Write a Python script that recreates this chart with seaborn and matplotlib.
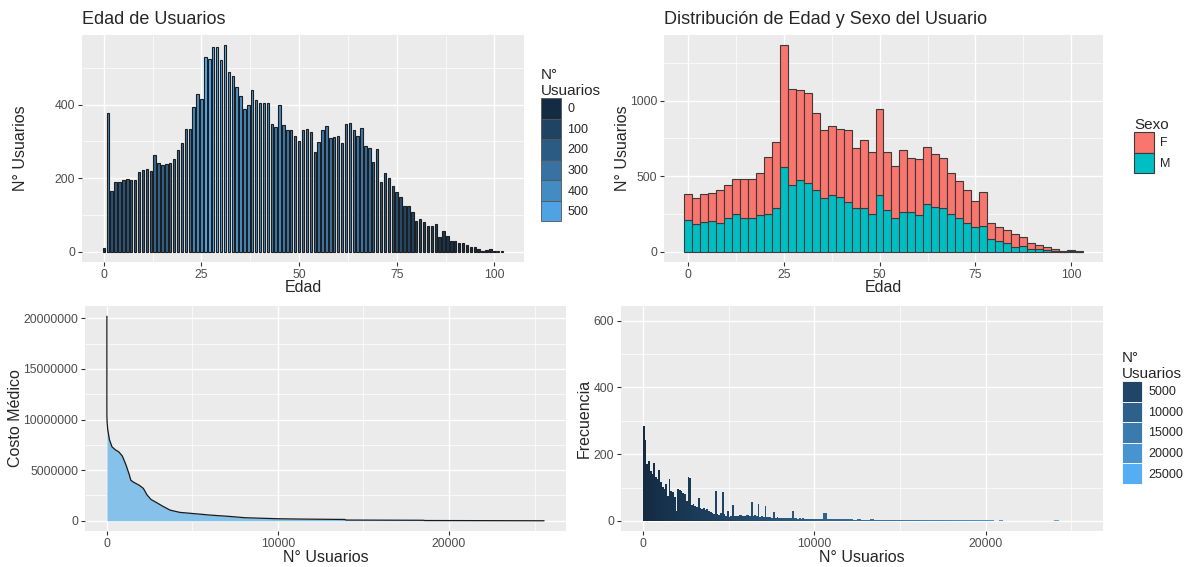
import numpy as np
import pandas as pd
import matplotlib
matplotlib.use("Agg")
import matplotlib.pyplot as plt
import seaborn as sns
from matplotlib.colors import LinearSegmentedColormap, Normalize
from matplotlib.patches import Patch
from matplotlib.ticker import FixedLocator

# ---------------- data ----------------
# Panel 1: users per age (0..102)
edad = list(range(0, 103))
usuarios_edad = [9, 377, 166, 190, 190, 194, 198, 196, 196, 217,
                 222, 226, 219, 264, 242, 236, 238, 240, 251, 276,
                 295, 333, 333, 394, 429, 415, 528, 525, 556, 557,
                 520, 561, 489, 478, 448, 423, 387, 398, 439, 412,
                 403, 403, 403, 348, 340, 399, 344, 330, 330, 314,
                 302, 330, 334, 325, 272, 299, 330, 341, 308, 311,
                 315, 296, 348, 350, 332, 315, 337, 286, 282, 243,
                 279, 190, 215, 200, 178, 162, 149, 124, 124, 108,
                 83, 89, 80, 71, 71, 74, 39, 55, 42, 30,
                 29, 23, 24, 18, 13, 12, 7, 3, 5, 8,
                 1, 1, 2]

# Panel 2: age histogram (50 bins) split by sex
total_bin = [384, 355, 384, 391, 408, 444, 482, 478, 478, 522,
             625, 725, 1366, 1078, 1071, 1047, 920, 806, 833, 810,
             804, 685, 741, 658, 944, 658, 567, 674, 623, 612,
             694, 647, 623, 522, 469, 408, 337, 393, 192, 163,
             141, 114, 100, 60, 47, 28, 16, 6, 9, 3]
masc_bin = [208, 181, 194, 201, 192, 223, 248, 223, 221, 243,
            250, 286, 562, 440, 475, 453, 406, 357, 377, 364,
            328, 290, 286, 252, 377, 279, 223, 261, 261, 243,
            319, 299, 286, 252, 223, 192, 165, 167, 87, 69,
            60, 33, 38, 20, 16, 9, 4, 1, 2, 1]
fem_bin = [t - m for t, m in zip(total_bin, masc_bin)]
sexos = ["F", "M"]

# Panel 3: medical cost sorted by user rank
usuarios_rank = [0, 0, 10, 50, 150, 300, 500, 700, 900, 1000, 1120, 1300, 1400,
                 1570, 1900, 2130, 2350, 2580, 2900, 3250, 3700, 4260, 4930,
                 6050, 7170, 8070, 10000, 11200, 13900, 14000, 18500, 18600, 25560]
costo_medico = [20200000, 10500000, 9800000, 9000000, 8000000, 7300000, 7000000,
                6800000, 6400000, 6000000, 5500000, 4600000, 4000000, 3800000,
                3500000, 3200000, 2550000, 2100000, 1800000, 1450000, 1050000,
                830000, 730000, 560000, 430000, 300000, 200000, 170000, 130000,
                70000, 50000, 25000, 0]

# Panel 4: frequency histogram over N° usuarios
frec_cabeza = [285, 242, 170, 180, 150, 141, 174, 133, 126, 154,
               116, 101, 96, 110, 76, 126, 91, 86, 73, 30,
               96, 92, 89, 85, 81, 60, 133, 128, 47, 50,
               45, 42, 68, 38, 35, 40, 32, 35, 30, 28,
               25, 22, 89, 20, 18, 25, 88, 22, 15, 30,
               12, 14, 47, 15, 16, 14, 17, 18, 16, 15,
               17, 18, 16, 56, 15, 18, 14, 50, 13, 15,
               12, 45, 12, 11, 12, 10, 28, 10, 11, 9,
               10, 9, 10, 9, 8, 9, 8, 30, 8, 9,
               7, 8, 7, 8, 7, 6, 7, 6, 7, 6]
frec_cola = [6, 5, 25, 6, 5, 6, 5, 5, 5, 4,
             5, 4, 4, 5, 4, 4, 4, 3, 4, 3,
             3, 3, 3, 3, 3, 2, 3, 2, 2, 3,
             2, 2, 2, 2, 2, 2, 2, 2, 2, 2,
             2, 2, 1, 2, 1, 1, 1, 0, 0, 0,
             0, 0, 0, 0, 0, 0, 2, 0]

leyenda_tl = [0, 100, 200, 300, 400, 500]
leyenda_br = [5000, 10000, 15000, 20000, 25000]

# ---------------- style ----------------
sns.set_theme(style="darkgrid", rc={
    "axes.facecolor": "#EBEBEB",
    "axes.edgecolor": "#EBEBEB",
    "grid.color": "white",
    "grid.linewidth": 1.0,
    "xtick.bottom": True, "ytick.left": True,
    "xtick.color": "#333333", "ytick.color": "#333333",
    "xtick.labelcolor": "#4D4D4D", "ytick.labelcolor": "#4D4D4D",
    "xtick.major.size": 3, "ytick.major.size": 3,
    "xtick.major.width": 0.8, "ytick.major.width": 0.8,
    "xtick.major.pad": 2, "ytick.major.pad": 2,
    "xtick.labelsize": 8.8, "ytick.labelsize": 8.8,
})
plt.rcParams["font.family"] = ["Liberation Sans", "DejaVu Sans"]

gg_cmap = LinearSegmentedColormap.from_list("gg", ["#132B43", "#56B1F7"])

W, H = 1186, 567
fig = plt.figure(figsize=(W / 100, H / 100), dpi=100)


def add_ax(l, t, r, b):
    return fig.add_axes([l / W, 1 - b / H, (r - l) / W, (b - t) / H])


ax1 = add_ax(82, 35, 524, 262)
ax2 = add_ax(664, 35, 1103, 262)
ax3 = add_ax(85, 306, 566, 531)
ax4 = add_ax(621, 306, 1103, 531)


def style(ax, xmaj, xmin, ymaj, ymin, xlim, ylim):
    ax.set_xlim(*xlim)
    ax.set_ylim(*ylim)
    ax.xaxis.set_major_locator(FixedLocator(xmaj))
    ax.xaxis.set_minor_locator(FixedLocator(xmin))
    ax.yaxis.set_major_locator(FixedLocator(ymaj))
    ax.yaxis.set_minor_locator(FixedLocator(ymin))
    ax.grid(which="major", color="white", linewidth=1.0)
    ax.grid(which="minor", color="white", linewidth=0.5)
    ax.tick_params(which="minor", length=0)
    ax.set_axisbelow(True)
    for s in ax.spines.values():
        s.set_visible(False)


# ---------------- panel 1 ----------------
norm1 = Normalize(vmin=min(usuarios_edad), vmax=max(usuarios_edad))
df1 = pd.DataFrame({"Edad": edad, "n": usuarios_edad})
sns.barplot(data=df1, x="Edad", y="n", native_scale=True, width=0.62,
            color="#336A98", errorbar=None, edgecolor="#1E1E1E",
            linewidth=0.8, ax=ax1)
for p, v in zip(sorted(ax1.patches, key=lambda p: p.get_x()), usuarios_edad):
    p.set_facecolor(gg_cmap(norm1(v)))
style(ax1, [0, 25, 50, 75, 100], [12.5, 37.5, 62.5, 87.5],
      [0, 200, 400], [100, 300, 500], (-5.6, 107.6), (-28, 589))
ax1.set_title("Edad de Usuarios", loc="left", fontsize=13, pad=8)
ax1.set_xlabel("Edad", fontsize=11.5)
ax1.set_ylabel("N° Usuarios", fontsize=11.5)
ax1.xaxis.set_label_coords(0.5, -0.079)
ax1.yaxis.set_label_coords(-0.122, 0.5)

# ---------------- panel 2 ----------------
n_bins = len(total_bin)
ancho = (max(edad) - min(edad)) / (n_bins - 1)
centros = [min(edad) + i * ancho for i in range(n_bins)]
bordes = [c - ancho / 2 for c in centros] + [centros[-1] + ancho / 2]
df2 = pd.DataFrame({
    "c": centros * 2,
    "Sexo": ["F"] * n_bins + ["M"] * n_bins,
    "n": fem_bin + masc_bin,
})
sns.histplot(data=df2, x="c", weights="n", hue="Sexo", hue_order=sexos,
             multiple="stack", bins=bordes,
             palette={"F": "#F8766D", "M": "#00BFC4"}, alpha=1,
             edgecolor="#3A3A3A", linewidth=0.8, legend=False, ax=ax2)
style(ax2, [0, 25, 50, 75, 100], [12.5, 37.5, 62.5, 87.5],
      [0, 500, 1000], [250, 750, 1250], (-6.3, 108.3), (-68, 1434))
ax2.set_title("Distribución de Edad y Sexo del Usuario", loc="left",
              fontsize=13, pad=8)
ax2.set_xlabel("Edad", fontsize=11.5)
ax2.set_ylabel("N° Usuarios", fontsize=11.5)
ax2.xaxis.set_label_coords(0.5, -0.079)
ax2.yaxis.set_label_coords(-0.077, 0.5)

# ---------------- panel 3 ----------------
ax3.fill_between(usuarios_rank, costo_medico, color="#85C1E9", linewidth=0)
sns.lineplot(x=usuarios_rank, y=costo_medico, sort=False, estimator=None,
             color="#1A1A1A", linewidth=0.9, ax=ax3)
style(ax3, [0, 10000, 20000], [5000, 15000, 25000],
      [0, 5000000, 10000000, 15000000, 20000000],
      [2500000, 7500000, 12500000, 17500000], (-1280, 26840),
      (-1010000, 21210000))
ax3.ticklabel_format(style="plain", axis="y", useOffset=False)
ax3.set_xlabel("N° Usuarios", fontsize=11.5)
ax3.set_ylabel("Costo Médico", fontsize=11.5)
ax3.xaxis.set_label_coords(0.5, -0.084)
ax3.yaxis.set_label_coords(-0.128, 0.5)

# ---------------- panel 4 ----------------
ancho_cabeza, ancho_cola = 100, 250
inicio_cola = ancho_cabeza * len(frec_cabeza)
bordes4 = [i * ancho_cabeza for i in range(len(frec_cabeza))] + \
          [inicio_cola + i * ancho_cola for i in range(len(frec_cola) + 1)]
centros4 = [(a + b) / 2 for a, b in zip(bordes4[:-1], bordes4[1:])]
frec = frec_cabeza + frec_cola
sns.histplot(x=centros4, weights=frec, bins=bordes4, color="#1F3E5E",
             alpha=1, edgecolor="none", linewidth=0, ax=ax4)
norm4 = Normalize(vmin=0, vmax=25560)
for p in ax4.patches:
    cx = p.get_x() + p.get_width() / 2
    p.set_facecolor(gg_cmap(norm4(cx)))
style(ax4, [0, 10000, 20000], [5000, 15000, 25000],
      [0, 200, 400, 600], [100, 300, 500], (-1280, 26840), (-30, 644))
ax4.set_xlabel("N° Usuarios", fontsize=11.5)
ax4.set_ylabel("Frecuencia", fontsize=11.5)
ax4.xaxis.set_label_coords(0.5, -0.084)
ax4.yaxis.set_label_coords(-0.060, 0.5)

# ---------------- legends ----------------
leg_kw = dict(loc="upper left", frameon=False, fontsize=9, title_fontsize=11,
              handlelength=1.6, handleheight=2.15, labelspacing=0.0,
              handletextpad=0.5, alignment="left", borderaxespad=0,
              borderpad=0)

h1 = [Patch(facecolor=gg_cmap(norm1(v)), edgecolor="#555555", linewidth=0.6)
      for v in leyenda_tl]
fig.legend(h1, [str(v) for v in leyenda_tl], title="N°\nUsuarios",
           bbox_to_anchor=(541 / W, 1 - 68 / H), **leg_kw)

h2 = [Patch(facecolor="#F8766D", edgecolor="#3A3A3A", linewidth=0.8),
      Patch(facecolor="#00BFC4", edgecolor="#3A3A3A", linewidth=0.8)]
fig.legend(h2, sexos, title="Sexo",
           bbox_to_anchor=(1134 / W, 1 - 118 / H), **leg_kw)

h4 = [Patch(facecolor=gg_cmap(norm4(v)), edgecolor="white", linewidth=0.6)
      for v in leyenda_br]
fig.legend(h4, [str(v) for v in leyenda_br], title="N°\nUsuarios",
           bbox_to_anchor=(1122 / W, 1 - 351 / H), **leg_kw)

fig.savefig("out.png", dpi=100, facecolor="white")
